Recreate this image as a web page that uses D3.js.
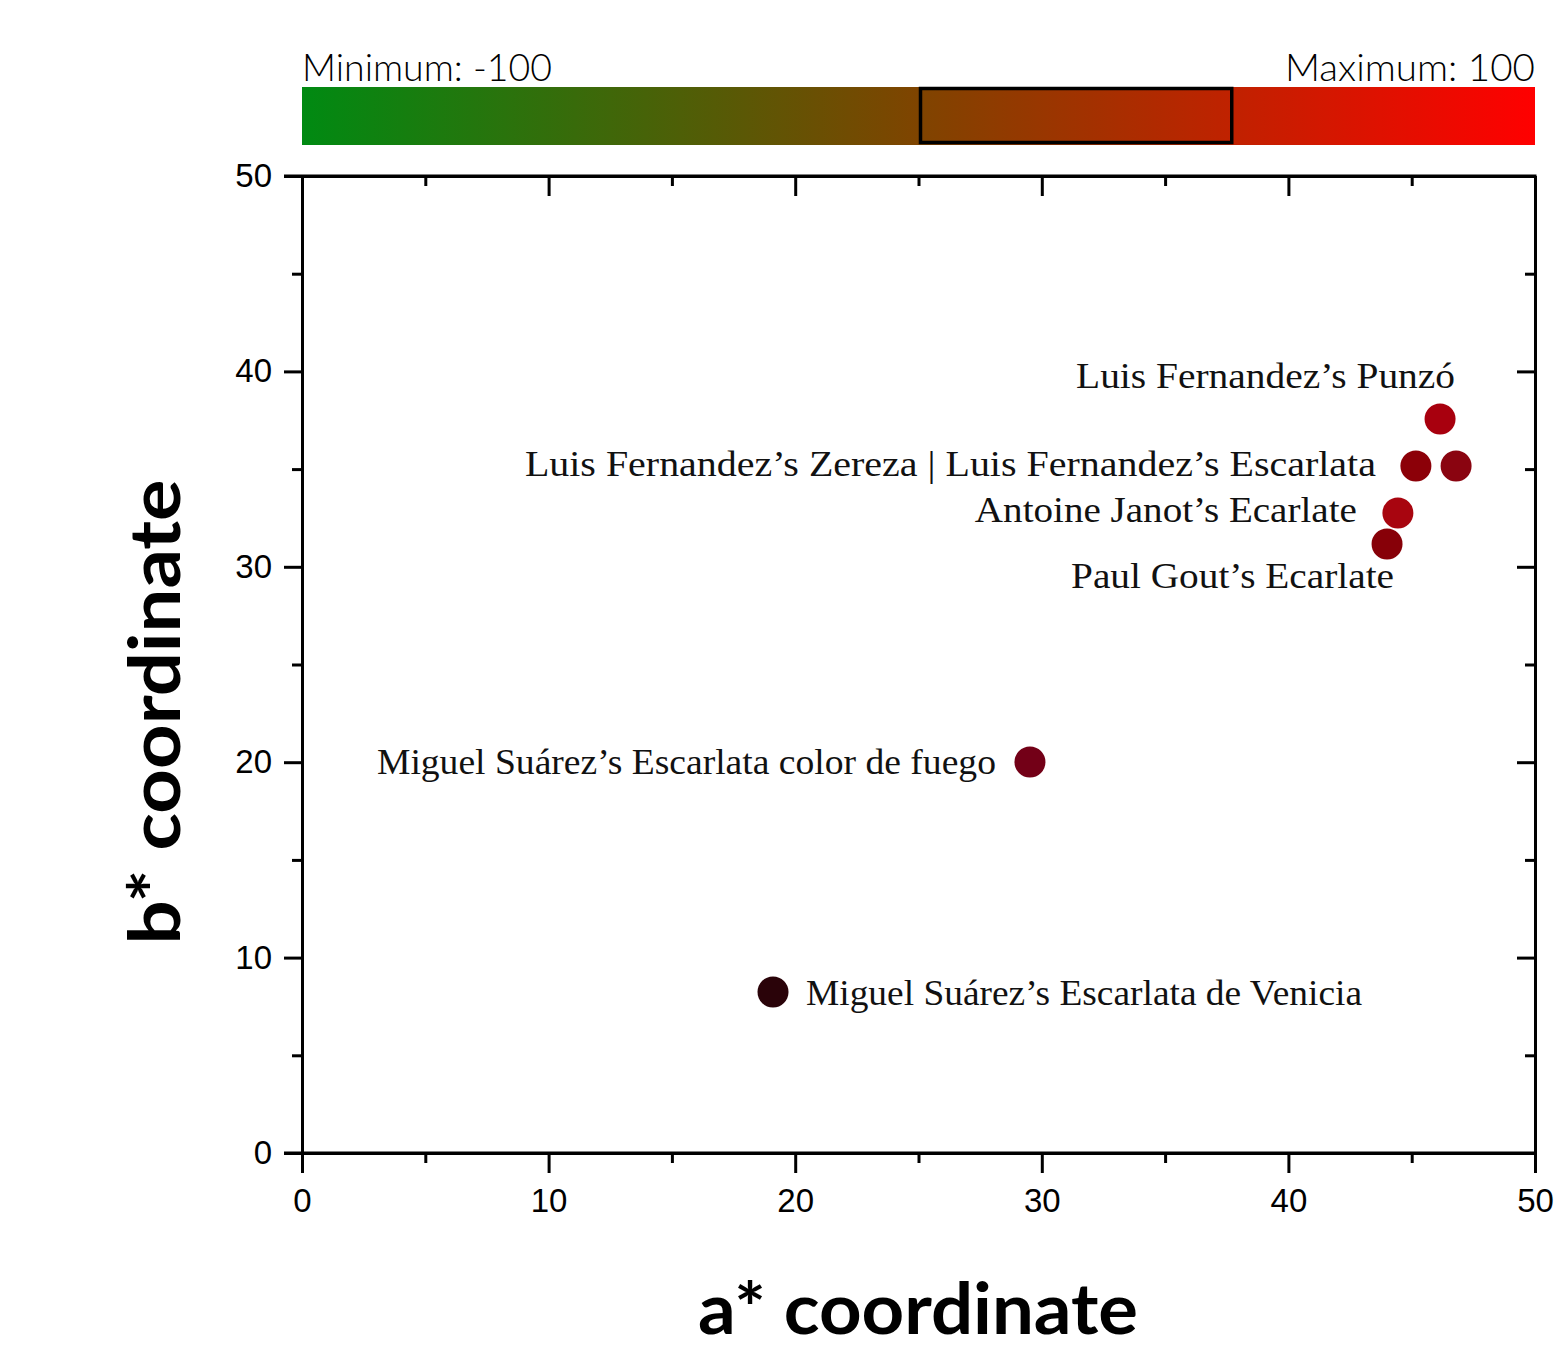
<!DOCTYPE html>
<html><head><meta charset="utf-8">
<script src="https://cdn.jsdelivr.net/npm/d3@7"></script>
<style>body{margin:0;background:#fff}svg{display:block}</style>
</head><body>
<script>
const names = ["Luis Fernandez’s Punzó","Luis Fernandez’s Zereza","Luis Fernandez’s Escarlata","Antoine Janot’s Ecarlate","Paul Gout’s Ecarlate","Miguel Suárez’s Escarlata color de fuego","Miguel Suárez’s Escarlata de Venicia"];
const aVals = [46.15,45.17,46.8,44.44,44.0,29.52,19.1];
const bVals = [37.56,35.16,35.16,32.75,31.17,20.01,8.24];
const colors = ["#A8000E","#8C0008","#8A0410","#A8050F","#870008","#730017","#2A0309"];
const xTicks = [0,10,20,30,40,50];
const yTicks = [0,10,20,30,40,50];
const barMin = -100, barMax = 100, boxRange = [0,50];

const W=1560,H=1349;
const svg=d3.select("body").append("svg").attr("width",W).attr("height",H);
const L=302,R=1535,T=176,B=1153;
const x=d3.scaleLinear().domain([0,50]).range([L,R]);
const y=d3.scaleLinear().domain([0,50]).range([B,T]);

// colour bar
const cb=d3.scaleLinear().domain([barMin,barMax]).range([L,R]);
const defs=svg.append("defs");
const g=defs.append("linearGradient").attr("id","grad");
g.append("stop").attr("offset","0%").attr("stop-color","#008A12");
g.append("stop").attr("offset","50%").attr("stop-color","#7F4400");
g.append("stop").attr("offset","100%").attr("stop-color","#FF0000");
svg.append("rect").attr("x",cb(barMin)).attr("y",87).attr("width",cb(barMax)-cb(barMin)).attr("height",58).attr("fill","url(#grad)");
svg.append("rect").attr("x",cb(boxRange[0])+2).attr("y",88.5).attr("width",cb(boxRange[1])-cb(boxRange[0])+3).attr("height",54).attr("fill","none").attr("stroke","#000").attr("stroke-width",3.5);
svg.append("text").attr("x",L).attr("y",81).attr("font-family","Lato, 'Open Sans', sans-serif").attr("font-size",37).attr("font-weight",300).attr("textLength",250).attr("lengthAdjust","spacingAndGlyphs").text("Minimum: "+barMin);
svg.append("text").attr("x",R).attr("y",81).attr("text-anchor","end").attr("font-family","Lato, 'Open Sans', sans-serif").attr("font-size",37).attr("font-weight",300).attr("textLength",250).attr("lengthAdjust","spacingAndGlyphs").text("Maximum: "+barMax);

// axes
const ff="'Liberation Sans', Arial, sans-serif";
function styleAxis(sel){sel.selectAll("path").attr("stroke","#000").attr("stroke-width",3);sel.selectAll("line").attr("stroke","#000").attr("stroke-width",3);sel.selectAll("text").attr("font-family",ff).attr("font-size",33).attr("fill","#000");}
const minorX=d3.range(5,50,10), minorY=d3.range(5,50,10);
// bottom
let gb=svg.append("g").attr("transform",`translate(0,${B})`).call(d3.axisBottom(x).tickValues(xTicks).tickSize(20).tickPadding(9).tickSizeOuter(0));
styleAxis(gb); gb.selectAll("text").attr("dy","0.9em");
svg.append("g").attr("transform",`translate(0,${B})`).call(d3.axisBottom(x).tickValues(minorX).tickSize(10).tickFormat("").tickSizeOuter(0)).call(styleAxis);
// top
svg.append("g").attr("transform",`translate(0,${T})`).call(d3.axisBottom(x).tickValues(xTicks).tickSize(20).tickFormat("").tickSizeOuter(0)).call(styleAxis);
svg.append("g").attr("transform",`translate(0,${T})`).call(d3.axisBottom(x).tickValues(minorX).tickSize(10).tickFormat("").tickSizeOuter(0)).call(styleAxis);
// left
let gl=svg.append("g").attr("transform",`translate(${L},0)`).call(d3.axisLeft(y).tickValues(yTicks).tickSize(18).tickPadding(12).tickSizeOuter(0));
styleAxis(gl);
svg.append("g").attr("transform",`translate(${L},0)`).call(d3.axisLeft(y).tickValues(minorY).tickSize(10).tickFormat("").tickSizeOuter(0)).call(styleAxis);
// right
svg.append("g").attr("transform",`translate(${R},0)`).call(d3.axisLeft(y).tickValues(yTicks).tickSize(18).tickFormat("").tickSizeOuter(0)).call(styleAxis);
svg.append("g").attr("transform",`translate(${R},0)`).call(d3.axisLeft(y).tickValues(minorY).tickSize(10).tickFormat("").tickSizeOuter(0)).call(styleAxis);
svg.append("line").attr("x1",284).attr("x2",R+1.5).attr("y1",T).attr("y2",T).attr("stroke","#000").attr("stroke-width",3);
svg.append("line").attr("x1",284).attr("x2",R+1.5).attr("y1",B).attr("y2",B).attr("stroke","#000").attr("stroke-width",3);

// titles
const tf="'Lato', 'DejaVu Sans', sans-serif";
svg.append("text").attr("x",918).attr("y",1334).attr("text-anchor","middle").attr("font-family",tf).attr("font-weight",700).attr("font-size",70).attr("textLength",440).attr("lengthAdjust","spacingAndGlyphs").text("a* coordinate");
svg.append("text").attr("transform","translate(180,712) rotate(-90)").attr("text-anchor","middle").attr("font-family",tf).attr("font-weight",700).attr("font-size",70).attr("textLength",465).attr("lengthAdjust","spacingAndGlyphs").text("b* coordinate");

// points
svg.selectAll("circle.pt").data(aVals).enter().append("circle").attr("class","pt")
 .attr("cx",d=>x(d)).attr("cy",(d,i)=>y(bVals[i])).attr("r",15.5).attr("fill",(d,i)=>colors[i]);

// labels (offsets relative to points)
const sf="'Liberation Serif', 'DejaVu Serif', serif";
const labels=[
 {i:0,text:names[0],dx:15,dy:-31,anchor:"end",len:379},
 {i:1,text:names[1]+" | "+names[2],dx:-40,dy:10,anchor:"end",len:851},
 {i:3,text:names[3],dx:-41,dy:9,anchor:"end",len:382},
 {i:4,text:names[4],dx:7,dy:44,anchor:"end",len:323},
 {i:5,text:names[5],dx:-34,dy:12,anchor:"end",len:619},
 {i:6,text:names[6],dx:33,dy:13,anchor:"start",len:556}
];
svg.selectAll("text.lab").data(labels).enter().append("text").attr("class","lab")
 .attr("x",d=>x(aVals[d.i])+d.dx).attr("y",d=>y(bVals[d.i])+d.dy)
 .attr("text-anchor",d=>d.anchor).attr("font-family",sf).attr("font-size",35)
 .attr("textLength",d=>d.len).attr("lengthAdjust","spacingAndGlyphs").attr("fill","#111").text(d=>d.text);
</script>
</body></html>
